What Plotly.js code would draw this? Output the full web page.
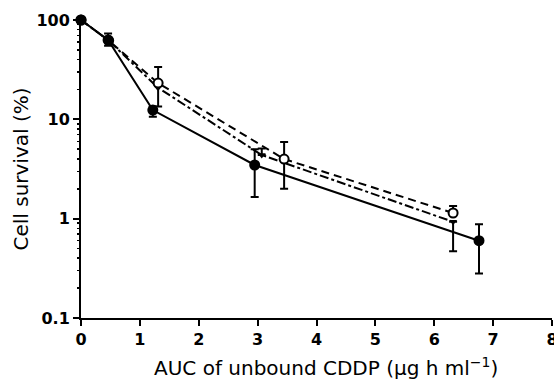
<!DOCTYPE html>
<html>
<head>
<meta charset="utf-8">
<script src="https://cdn.plot.ly/plotly-3.0.1.min.js"></script>
<style>html,body{margin:0;padding:0;background:#fff;}#chart{width:554px;height:381px;}</style>
</head>
<body>
<div id="chart"></div>
<script>
// Series A: solid line, filled circles
const xA = [0, 0.46, 1.22, 2.95, 6.76];
const yA = [100, 63, 12.4, 3.47, 0.6];
const upA = [null, 73, 13.5, 5.0, 0.88];
const loA = [null, 55, 10.6, 1.65, 0.28];

// Series B: dashed line, open circles
const xB = [0, 0.47, 1.31, 3.45, 6.32];
const yB = [100, 62, 23.2, 3.98, 1.14];
const upB = [null, null, 33.6, 5.9, 1.34];
const loB = [null, null, 13.5, 2.0, null];

// Series C: dash-dot line, small filled markers
const xC = [0, 0.47, 1.3, 3.07, 6.32];
const yC = [100, 62, 21, 4.37, 0.93];
const upC = [null, null, null, 5.1, null];
const loC = [null, null, null, null, 0.47];

const xTicks = [0, 1, 2, 3, 4, 5, 6, 7, 8];
const yTicks = [0.1, 1, 10, 100];
const yTickText = ['0.1', '1', '10', '100'];
const yMinor = [0.2, 0.3, 0.4, 0.5, 0.6, 0.7, 0.8, 0.9,
                2, 3, 4, 5, 6, 7, 8, 9,
                20, 30, 40, 50, 60, 70, 80, 90];

const xTitle = 'AUC of unbound CDDP (\u00b5g h ml<sup>\u22121</sup>)';
const yTitle = 'Cell survival (%)';

function plus(y, up) { return y.map((v, i) => up[i] == null ? NaN : up[i] - v); }
function minus(y, lo) { return y.map((v, i) => lo[i] == null ? NaN : v - lo[i]); }

function errs(y, up, lo) {
  return {type: 'data', symmetric: false, array: plus(y, up), arrayminus: minus(y, lo),
          color: 'black', thickness: 2, width: 4, visible: true};
}

const traces = [
  {x: xC, y: yC, mode: 'lines+markers', cliponaxis: false,
   line: {color: 'black', width: 2, dash: 'dashdot'},
   marker: {symbol: 'triangle-down', size: 7, color: 'black'},
   error_y: errs(yC, upC, loC)},
  {x: xB, y: yB, mode: 'lines+markers', cliponaxis: false,
   line: {color: 'black', width: 2, dash: '8px,5px'},
   marker: {symbol: 'circle', size: 9, color: 'white', line: {color: 'black', width: 2}},
   error_y: errs(yB, upB, loB)},
  {x: xA, y: yA, mode: 'lines+markers', cliponaxis: false,
   line: {color: 'black', width: 2},
   marker: {symbol: 'circle', size: 11, color: 'black'},
   error_y: errs(yA, upA, loA)}
];

const tickFont = {family: 'DejaVu Sans, sans-serif', size: 16, color: 'black', weight: 'bold'};
const titleFont = {family: 'DejaVu Sans, sans-serif', size: 20, color: 'black'};

const layout = {
  width: 554, height: 381,
  margin: {l: 81, r: 2, t: 20, b: 63},
  paper_bgcolor: 'white', plot_bgcolor: 'white',
  showlegend: false,
  xaxis: {
    range: [0, 8], tickmode: 'array', tickvals: xTicks, ticktext: xTicks.map(String),
    ticklabeloverflow: 'allow',
    showline: true, linecolor: 'black', linewidth: 2, mirror: false,
    ticks: 'outside', ticklen: 6, tickwidth: 2, tickcolor: 'black',
    showgrid: false, zeroline: false, tickfont: tickFont
  },
  yaxis: {
    type: 'log', range: [-1, 2], tickmode: 'array', tickvals: yTicks, ticktext: yTickText,
    showline: true, linecolor: 'black', linewidth: 2, mirror: false,
    ticks: 'outside', ticklen: 6, tickwidth: 2, tickcolor: 'black',
    showgrid: false, zeroline: false, tickfont: tickFont,
    title: {text: yTitle, font: titleFont, standoff: 2}
  },
  yaxis2: {
    type: 'log', range: [-1, 2], overlaying: 'y', side: 'left', anchor: 'x',
    tickmode: 'array', tickvals: yMinor, ticktext: yMinor.map(() => ''), showticklabels: true,
    ticks: 'outside', ticklen: 3, tickwidth: 1.5, tickcolor: 'black',
    showline: false, showgrid: false, zeroline: false
  },
  annotations: [{
    text: xTitle, xref: 'paper', yref: 'paper', x: 0.52, y: -0.165,
    xanchor: 'center', yanchor: 'middle', showarrow: false, font: titleFont
  }]
};

// invisible trace to activate the minor-tick overlay axis
traces.push({x: [4], y: [1], yaxis: 'y2', mode: 'markers', marker: {opacity: 0}, hoverinfo: 'skip', showlegend: false});

Plotly.newPlot('chart', traces, layout, {displayModeBar: false, staticPlot: true});
</script>
</body>
</html>
